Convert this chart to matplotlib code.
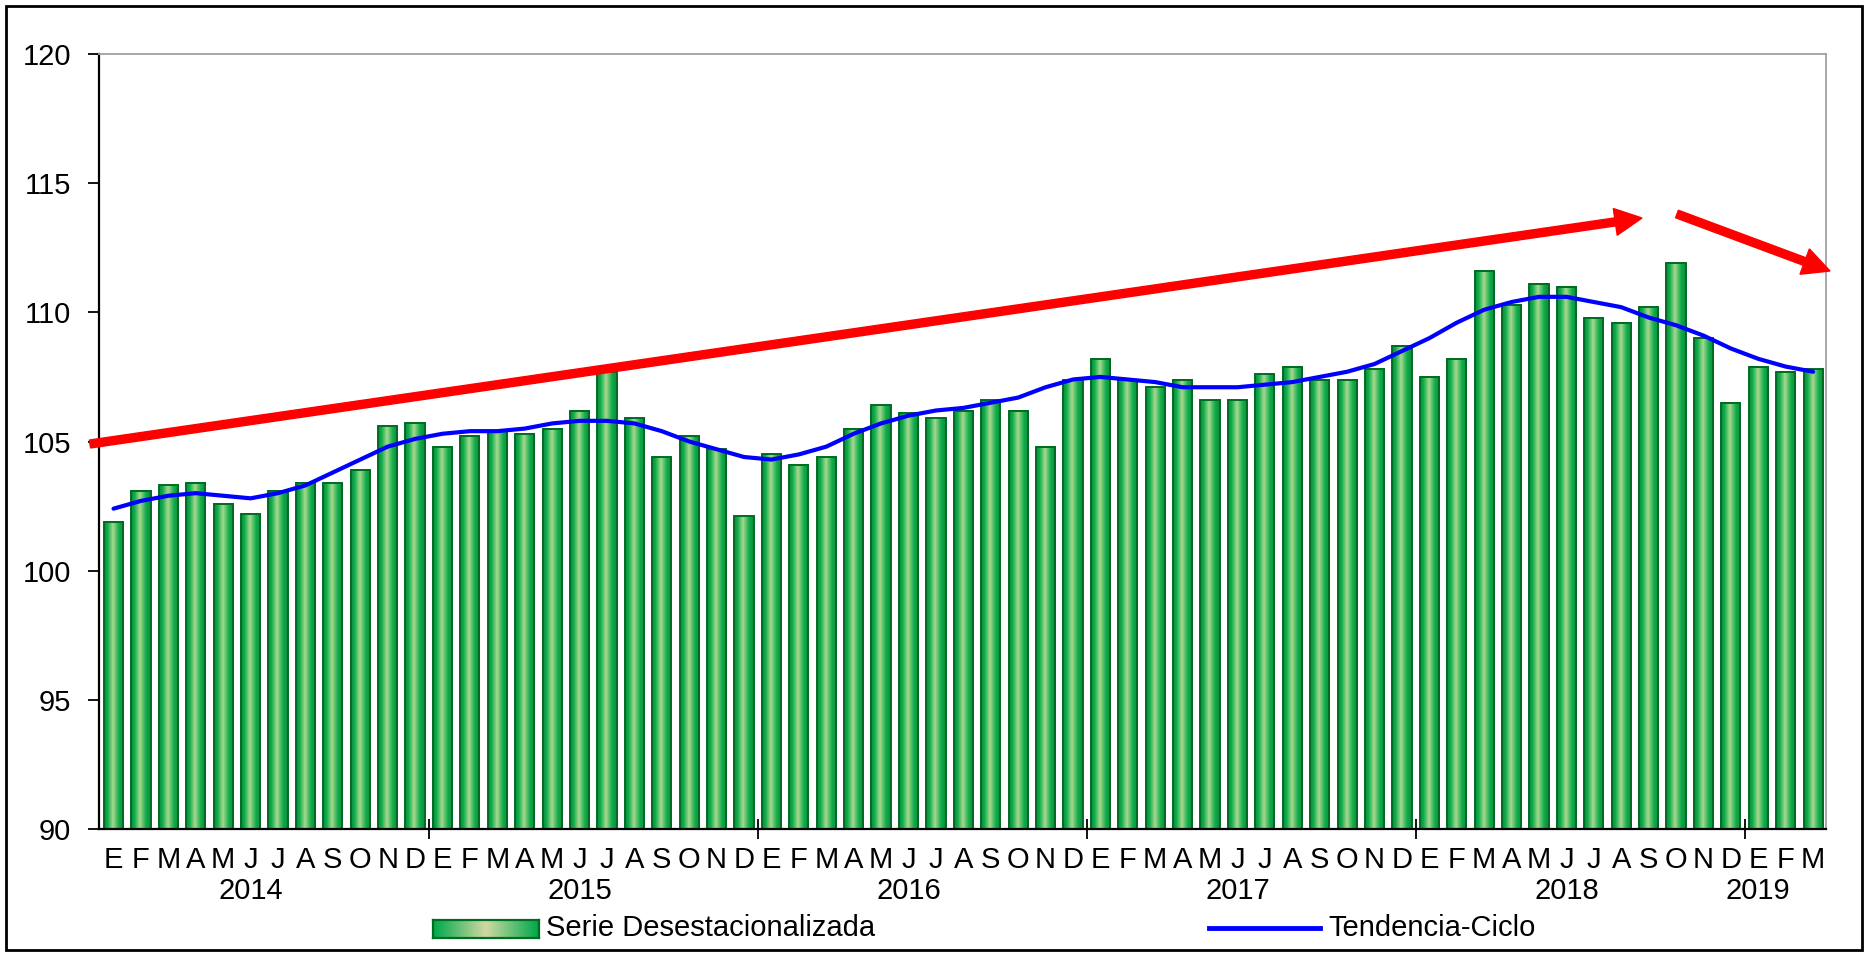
import numpy as np
import matplotlib
matplotlib.use("Agg")
import matplotlib.pyplot as plt
from matplotlib.colors import LinearSegmentedColormap
from matplotlib.patches import FancyArrow, Rectangle
from matplotlib.lines import Line2D
from matplotlib.transforms import IdentityTransform, blended_transform_factory

plt.rcParams['font.family'] = ['Liberation Sans', 'DejaVu Sans']

# Serie mensual enero 2014 - marzo 2019
meses = ['E', 'F', 'M', 'A', 'M', 'J', 'J', 'A', 'S', 'O', 'N', 'D']
anios = ['2014', '2015', '2016', '2017', '2018', '2019']
meses_por_anio = [12, 12, 12, 12, 12, 3]

serie_desest = [
    101.9, 103.1, 103.3, 103.4, 102.6, 102.2, 103.1, 103.4, 103.4, 103.9, 105.6, 105.7,
    104.8, 105.2, 105.4, 105.3, 105.5, 106.2, 107.7, 105.9, 104.4, 105.2, 104.7, 102.1,
    104.5, 104.1, 104.4, 105.5, 106.4, 106.1, 105.9, 106.2, 106.6, 106.2, 104.8, 107.4,
    108.2, 107.4, 107.1, 107.4, 106.6, 106.6, 107.6, 107.9, 107.4, 107.4, 107.8, 108.7,
    107.5, 108.2, 111.6, 110.3, 111.1, 111.0, 109.8, 109.6, 110.2, 111.9, 109.0, 106.5,
    107.9, 107.7, 107.8,
]

tendencia_ciclo = [
    102.4, 102.7, 102.9, 103.0, 102.9, 102.8, 103.0, 103.3, 103.8, 104.3, 104.8, 105.1,
    105.3, 105.4, 105.4, 105.5, 105.7, 105.8, 105.8, 105.7, 105.4, 105.0, 104.7, 104.4,
    104.3, 104.5, 104.8, 105.3, 105.7, 106.0, 106.2, 106.3, 106.5, 106.7, 107.1, 107.4,
    107.5, 107.4, 107.3, 107.1, 107.1, 107.1, 107.2, 107.3, 107.5, 107.7, 108.0, 108.5,
    109.0, 109.6, 110.1, 110.4, 110.6, 110.6, 110.4, 110.2, 109.8, 109.5, 109.1, 108.6,
    108.2, 107.9, 107.7,
]

W, H = 1868, 955
fig = plt.figure(figsize=(W / 100, H / 100), dpi=100)
fig.patch.set_facecolor('white')
ax = fig.add_axes([99 / W, 1 - 829 / H, (1826 - 99) / W, (829 - 54) / H])

x = np.arange(len(serie_desest))

# barras con degradado horizontal
grad_barra = LinearSegmentedColormap.from_list(
    'barra', [(0.0, '#0b8a3c'), (0.18, '#10ae4c'), (0.45, '#a9d98f'),
              (0.75, '#12ad4b'), (1.0, '#0b8a3c')])
franja = np.linspace(0, 1, 64).reshape(1, -1)

barras = ax.bar(x, serie_desest, width=0.7, facecolor='none',
                edgecolor='#006b22', linewidth=1.4, zorder=2)
for r in barras:
    x0 = r.get_x()
    ax.imshow(franja, extent=(x0, x0 + r.get_width(), 90, r.get_height()),
              aspect='auto', cmap=grad_barra, interpolation='bilinear', zorder=1)

ax.plot(x, tendencia_ciclo, color='#0000ff', linewidth=3, zorder=3,
        solid_capstyle='round')

ax.set_xlim(-0.53, 62.47)
ax.set_ylim(90, 120)

# eje y
ax.set_yticks(np.arange(90, 121, 5))
ax.tick_params(axis='y', direction='out', length=8, width=1.3, pad=12,
               labelsize=21, colors='black')

# eje x: letras de los meses y marcas entre años
etiquetas = [meses[i % 12] for i in range(len(x))]
ax.set_xticks(x)
ax.set_xticklabels(etiquetas)
ax.tick_params(axis='x', which='major', length=0, pad=12, labelsize=21)
limites = np.cumsum(meses_por_anio)[:-1] - 0.5
ax.set_xticks(limites, minor=True)
ax.tick_params(axis='x', which='minor', direction='inout', length=14, width=1.3)

trans = blended_transform_factory(ax.transData, ax.transAxes)
inicio = 0
for anio, n in zip(anios, meses_por_anio):
    centro = inicio + (n - 1) / 2 - 0.5 if n == 12 else inicio + 0.0
    ax.text(centro, -62 / 775, anio, transform=trans, ha='center', va='center',
            fontsize=21)
    inicio += n

for lado in ['left', 'bottom']:
    ax.spines[lado].set_color('black')
    ax.spines[lado].set_linewidth(1.6)
for lado in ['top', 'right']:
    ax.spines[lado].set_color('#a0a0a0')
    ax.spines[lado].set_linewidth(1.3)

# flechas rojas de tendencia
px = IdentityTransform()
fig.add_artist(FancyArrow(90, H - 444, 1642 - 90, 444 - 218, width=8,
                          head_width=27, head_length=27, length_includes_head=True,
                          color='#ff0000', transform=px, zorder=5))
fig.add_artist(FancyArrow(1677, H - 214, 1830 - 1677, 214 - 271, width=8,
                          head_width=27, head_length=27, length_includes_head=True,
                          color='#ff0000', transform=px, zorder=5))

# leyenda
grad_ley = LinearSegmentedColormap.from_list(
    'ley', [(0.0, '#00a84c'), (0.5, '#d2d9a2'), (1.0, '#00a84c')])
lax = fig.add_axes([433 / W, 1 - 938 / H, 106 / W, 18 / H])
lax.imshow(franja, aspect='auto', cmap=grad_ley, interpolation='bilinear')
lax.set_xticks([])
lax.set_yticks([])
for s in lax.spines.values():
    s.set_color('#006b22')
    s.set_linewidth(1.6)
fig.text(546 / W, 1 - 928 / H, 'Serie Desestacionalizada', fontsize=21,
         va='center', ha='left')
fig.add_artist(Line2D([1209 / W, 1320 / W], [1 - 928 / H, 1 - 928 / H],
                      color='#0000ff', linewidth=3.5))
fig.text(1328 / W, 1 - 928 / H, 'Tendencia-Ciclo', fontsize=21,
         va='center', ha='left')

# marco exterior
fig.add_artist(Rectangle((6 / W, 5 / H), 1856 / W, 944 / H, fill=False,
                         edgecolor='black', linewidth=2, transform=fig.transFigure))

fig.savefig('out.png', dpi=100)
